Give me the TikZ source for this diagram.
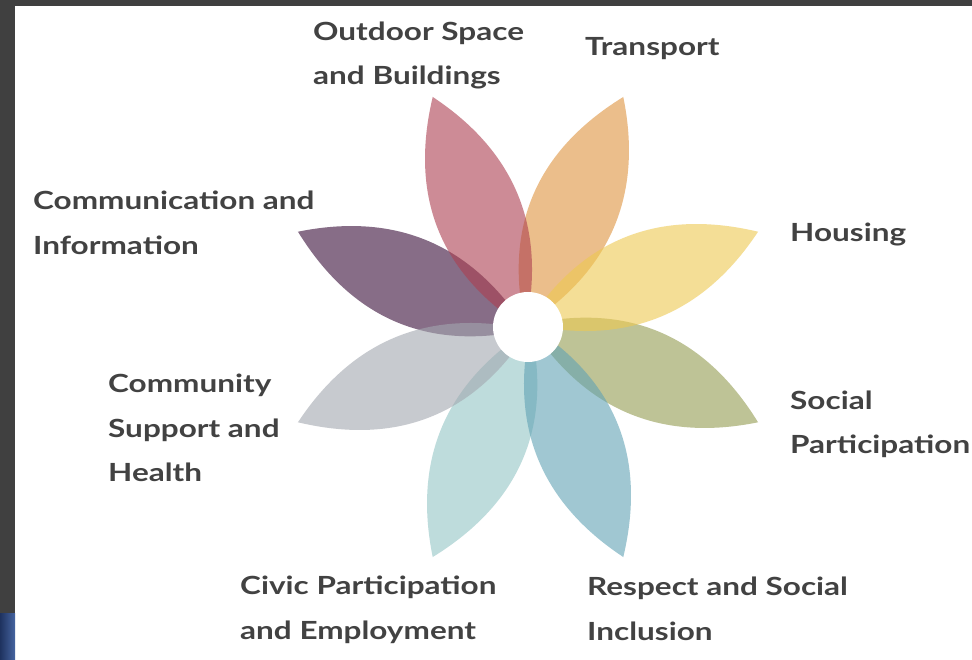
\documentclass[tikz,border=0pt]{standalone}
\usepackage{fontspec}
\setmainfont{Lato}[FakeStretch=1.26]
\definecolor{frame}{RGB}{64,64,64}
\definecolor{txt}{RGB}{66,66,66}
\definecolor{pk}{RGB}{172,63,80}
\definecolor{og}{RGB}{223,147,63}
\definecolor{yl}{RGB}{238,200,80}
\definecolor{ol}{RGB}{147,155,80}
\definecolor{bl}{RGB}{97,163,180}
\definecolor{tl}{RGB}{147,197,197}
\definecolor{gy}{RGB}{163,167,175}
\definecolor{pp}{RGB}{55,13,55}
\definecolor{patchA}{RGB}{30,50,95}
\definecolor{patchB}{RGB}{70,100,160}
\newcommand\leaf[2]{\fill[#2, fill opacity=0.6, rotate=#1] (0,-3) .. controls (83,55) and (166,56) .. (249,0) .. controls (166,-60) and (83,-61) .. (0,-3);}
\tikzset{lab/.style={anchor=base west, inner sep=0pt, text=txt, font=\fontsize{25}{30}\selectfont\bfseries}}
\begin{document}
\begin{tikzpicture}[x=1pt,y=-1pt]
\useasboundingbox (0,0) rectangle (972,660);
\fill[frame] (0,0) rectangle (972,660);
\fill[white] (15,6) rectangle (972,660);
\shade[left color=patchA, right color=patchB] (0,613) rectangle (15,660);
\begin{scope}[shift={(528,327)}]
\leaf{157.5}{pp}
\leaf{67.5}{og}
\leaf{-22.5}{ol}
\leaf{-112.5}{tl}
\leaf{112.5}{pk}
\leaf{22.5}{yl}
\leaf{-67.5}{bl}
\leaf{-157.5}{gy}
\end{scope}
\node[circle, fill=white, minimum size=70pt, inner sep=0pt] (hub) at (528,327) {};
\node[lab] (out1) at (313,41) {Outdoor Space};
\node[lab] (out2) at (313,85) {and Buildings};
\node[lab] (tra) at (585,56) {Transport};
\node[lab] (com1) at (33,210) {Communication and};
\node[lab] (com2) at (33,255) {Information};
\node[lab] (hou) at (790,242) {Housing};
\node[lab] (cs1) at (108,392) {Community};
\node[lab] (cs2) at (108,437) {Support and};
\node[lab] (cs3) at (108,481) {Health};
\node[lab] (sp1) at (790,409) {Social};
\node[lab] (sp2) at (790,453) {Participation};
\node[lab] (cv1) at (240,594) {Civic Participation};
\node[lab] (cv2) at (240,639) {and Employment};
\node[lab] (rs1) at (587,595) {Respect and Social};
\node[lab] (rs2) at (587,640) {Inclusion};
\end{tikzpicture}
\end{document}
